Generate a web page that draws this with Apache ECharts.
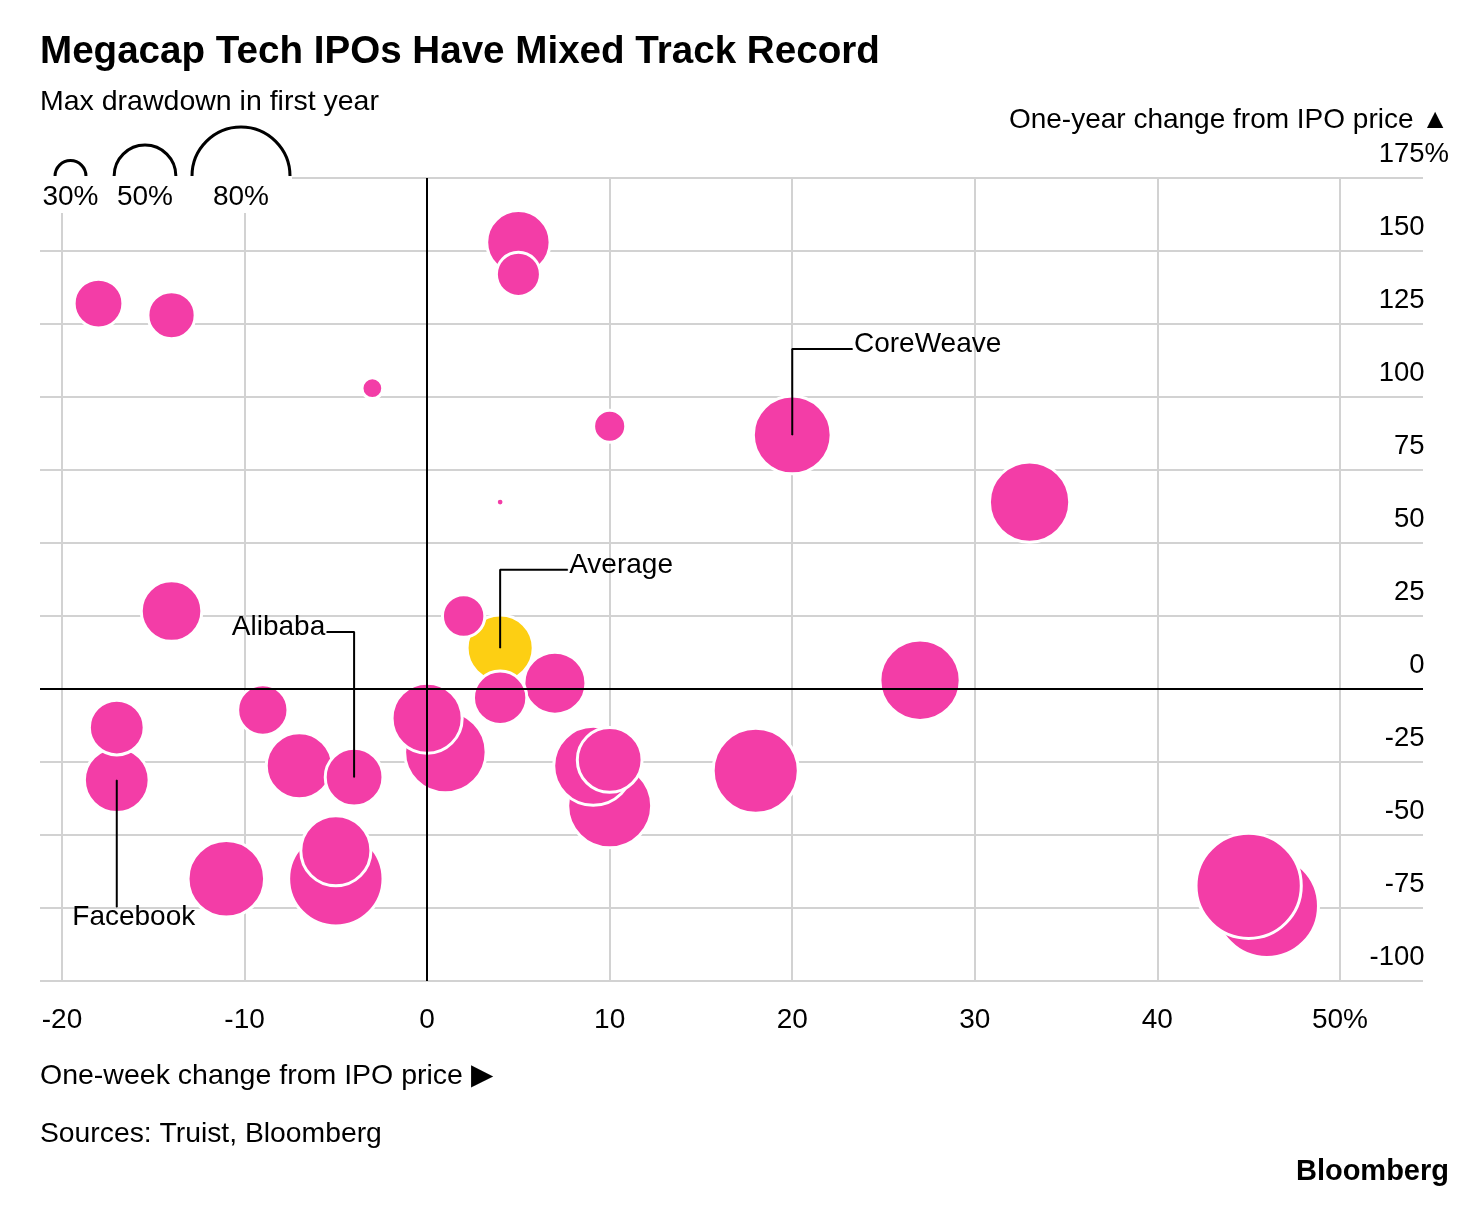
<!DOCTYPE html>
<html><head><meta charset="utf-8">
<script src="https://cdn.jsdelivr.net/npm/echarts@6/dist/echarts.min.js"></script>
<style>html,body{margin:0;padding:0;background:#fff}#c{width:1474px;height:1222px}</style>
</head><body><div id="c"></div>
<script>
// ---------- DATA ----------
const weekChange  = [-18, -14, -3, 5, 5, 10, 20, 33, 4, -14, 2, 7, 27, 4, -9, 1, 0, -17, -17, -7, -4, 10, 9.1, 10, 18, -11, -5, -5, 46, 45];
const yearChange  = [132, 128, 103, 153, 142, 90, 87, 64, 64, 26.7, 25, 2, 3, -3, -7.2, -21.6, -10, -31.2, -13.2, -26.3, -30.2, -40, -26.3, -24.3, -28, -65, -65, -55.4, -74.3, -67.4];
const maxDrawdown = [39, 38, 23, 49, 36, 29, 60, 62, 17, 47, 35, 48, 62, 42, 40, 63, 54, 50, 43, 51, 45, 65, 61, 50, 66, 59, 74, 54, 82, 84];
const averagePoint = [4, 14, 51];            // one-week %, one-year %, max drawdown %
const xTicks = [-20, -10, 0, 10, 20, 30, 40, 50];
const legendSizes = [30, 50, 80];
const annotationNames = ['CoreWeave', 'Average', 'Alibaba', 'Facebook'];
const annotationIndex = [6, -1, 20, 17];     // -1 = average point
const annotationElbows = [[[20, 116.4], [23.3, 116.4]], [[4, 40.8], [7.7, 40.8]], [[-4, 19.5], [-5.5, 19.5]], [[-17, -74.7]]];

// ---------- STYLE ----------
const FONT = '"Liberation Sans", Arial, sans-serif';
const PINK = '#F33DA7';
const YELLOW = '#FDCF13';
const GRID = '#d2d2d2';
const radius = v => Math.max(1.5, 9.67 * Math.sqrt(v) - 37.5);
const symSize = v => 2 * radius(v[2]) + 3;

const labelPlacement = [
  { position: 'right', distance: 1, offset: [0, -5] },
  { position: 'right', distance: 1, offset: [0, -5] },
  { position: 'left', distance: 1, offset: [0, -5] },
  { position: 'bottom', distance: 0, offset: [17, -4] }
];

const series = [];
// zero lines
series.push({
  type: 'scatter', data: [], z: 1, silent: true,
  markLine: {
    silent: true, symbol: 'none', animation: false,
    label: { show: false },
    lineStyle: { color: '#000', width: 2, type: 'solid' },
    data: [{ xAxis: 0 }, { yAxis: 0 }]
  }
});
series.push({
  type: 'scatter', name: 'Average', z: 2, silent: true,
  data: [averagePoint], symbolSize: symSize,
  itemStyle: { color: YELLOW, borderColor: '#fff', borderWidth: 3, opacity: 1 }
});
series.push({
  type: 'scatter', name: 'IPOs', z: 3, silent: true,
  data: weekChange.map((x, i) => [x, yearChange[i], maxDrawdown[i]]),
  symbolSize: symSize,
  itemStyle: { color: PINK, borderColor: '#fff', borderWidth: 3, opacity: 1 }
});
annotationNames.forEach((name, k) => {
  const idx = annotationIndex[k];
  const anchor = idx < 0 ? [averagePoint[0], averagePoint[1]] : [weekChange[idx], yearChange[idx]];
  const pts = [anchor].concat(annotationElbows[k]);
  series.push({
    type: 'line', z: 5, silent: true, animation: false,
    symbol: 'circle', symbolSize: 1, showSymbol: true,
    lineStyle: { color: '#000', width: 2 },
    itemStyle: { color: '#000' },
    label: { show: false },
    data: pts.map((p, i) => i === pts.length - 1 ? {
      value: p,
      label: Object.assign({ show: true, formatter: name, color: '#000', fontSize: 28, fontFamily: FONT }, labelPlacement[k])
    } : p)
  });
});

// legend (size key) graphics
const legendCx = [70.5, 145, 241];
const graphic = [{ type: 'rect', z: 100, shape: { x: 36, y: 120, width: 256, height: 93 }, style: { fill: '#fff' } }];
legendSizes.forEach((s, i) => {
  graphic.push({ type: 'arc', z: 101, shape: { cx: legendCx[i], cy: 176, r: radius(s), startAngle: Math.PI, endAngle: 2 * Math.PI, clockwise: true },
    style: { stroke: '#000', lineWidth: 3, fill: null } });
  graphic.push({ type: 'text', z: 101, x: legendCx[i], y: 197,
    style: { text: s + '%', font: '28px ' + FONT, fill: '#000', align: 'center', verticalAlign: 'middle' } });
});
const txt = (text, x, y, size, opts) => Object.assign({ type: 'text', z: 101, x, y,
  style: Object.assign({ text, font: size + 'px ' + FONT, fill: '#000', align: 'left', verticalAlign: 'middle' }, opts || {}) });
graphic.push(txt('Megacap Tech IPOs Have Mixed Track Record', 40, 52, 38.6, { font: 'bold 38.6px ' + FONT }));
graphic.push(txt('Max drawdown in first year', 40, 102, 28.5));
graphic.push(txt('One-year change from IPO price \u25B2', 1449, 120, 28, { align: 'right' }));
graphic.push(txt('One-week change from IPO price \u25B6', 40, 1076, 28.5));
graphic.push(txt('Sources: Truist, Bloomberg', 40, 1134, 28.3));
graphic.push(txt('Bloomberg', 1449, 1172, 29, { align: 'right', font: 'bold 29px ' + FONT }));

const option = {
  animation: false,
  backgroundColor: '#fff',
  textStyle: { fontFamily: FONT },
  grid: { left: 40, right: 51, top: 178, bottom: 241 },
  xAxis: {
    type: 'value', min: -21.205, max: 54.55,
    axisLine: { show: false },
    axisTick: { show: false, customValues: xTicks },
    axisLabel: { customValues: xTicks, formatter: v => v === 50 ? '50%' : String(v), fontSize: 28, color: '#000', margin: 25, fontFamily: FONT },
    splitLine: { show: true, lineStyle: { color: GRID, width: 2 } }
  },
  yAxis: {
    type: 'value', position: 'right', min: -100, max: 175, interval: 25,
    axisLine: { show: false }, axisTick: { show: false },
    axisLabel: {
      align: 'right', margin: 26, verticalAlign: 'bottom', padding: [0, 0, 10, 0],
      formatter: v => v === 175 ? '{n|175}{p|%}' : '{n|' + v + '}{h|%}',
      rich: {
        n: { fontSize: 27.5, color: '#000', fontFamily: FONT },
        p: { fontSize: 27.5, color: '#000', fontFamily: FONT },
        h: { fontSize: 27.5, color: 'rgba(0,0,0,0)', fontFamily: FONT }
      }
    },
    splitLine: { show: true, lineStyle: { color: GRID, width: 2 } }
  },
  graphic,
  series
};
const chart = echarts.init(document.getElementById('c'), null, { renderer: 'canvas' });
chart.setOption(option);
</script></body></html>
